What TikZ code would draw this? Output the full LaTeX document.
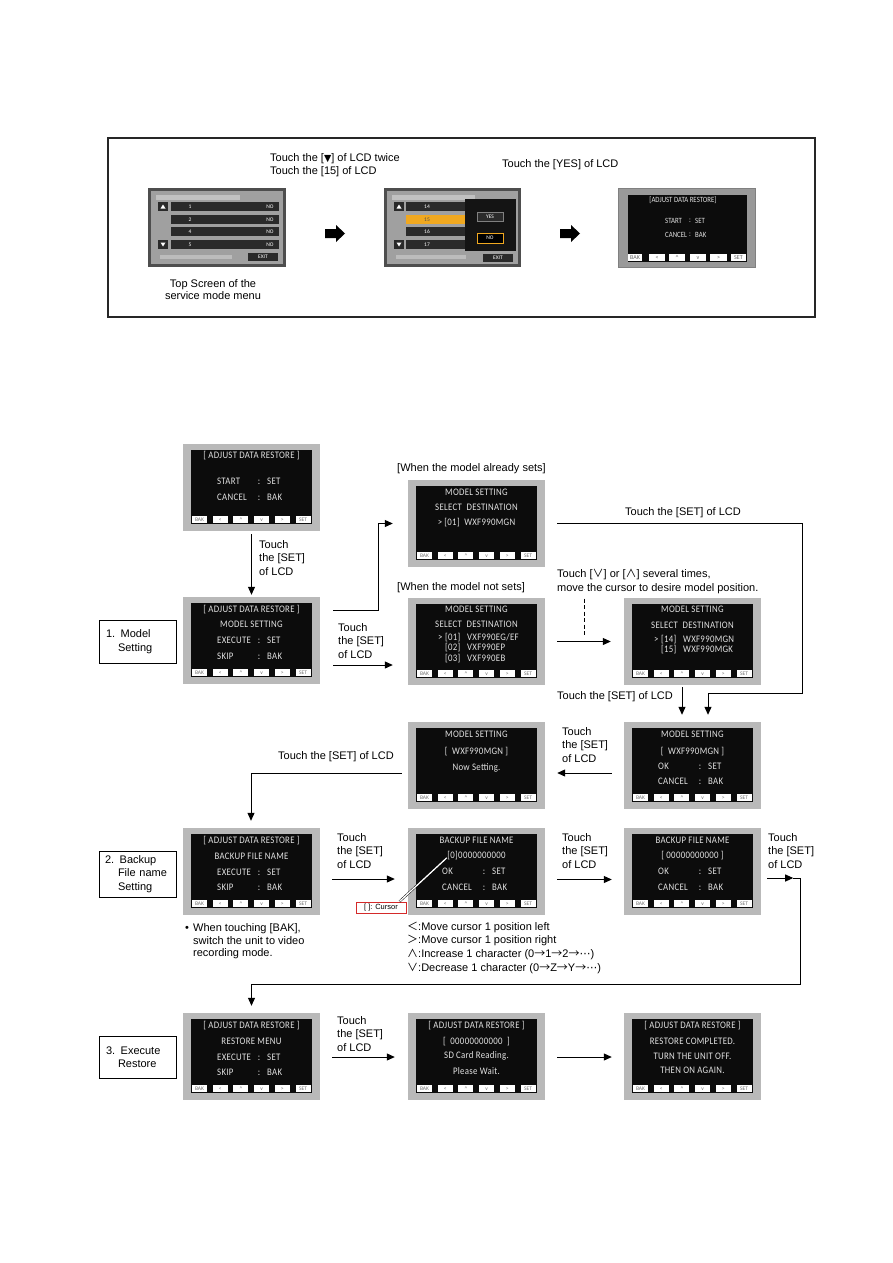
\documentclass[tikz,border=0pt]{standalone}
\usepackage{fontspec}
\setmainfont{Liberation Sans}
\newfontfamily\lcdfont[LetterSpace=3,FakeStretch=0.88]{Carlito}
\newfontfamily\lcdplain{Carlito}
\newfontfamily\lcdnarrow[FakeStretch=0.85]{Carlito}
\newfontfamily\cjk{Noto Sans CJK JP}
\newfontfamily\djv{DejaVu Sans}
\usetikzlibrary{arrows.meta,calc}
\definecolor{lcdframe}{HTML}{B9B9B9}
\definecolor{lcdblack}{HTML}{0C0C0C}
\definecolor{lcdtext}{HTML}{E2E2E2}
\definecolor{menugray}{HTML}{A0A0A0}
\definecolor{menudark}{HTML}{2A2A2A}
\definecolor{menuborder}{HTML}{4E4E4E}
\definecolor{hilite}{HTML}{F0A820}
\definecolor{cursorred}{HTML}{D42A2A}
\tikzset{
  lcdbox/.style={fill=lcdframe, minimum width=137pt, minimum height=87pt, inner sep=0pt},
  lcdtxt/.style={inner sep=0pt, text height=6.4pt, text depth=0pt, font=\lcdfont\fontsize{10}{10}\selectfont, text=lcdtext},
  lcdbtn/.style={fill=white, inner sep=0pt, minimum width=15pt, minimum height=7pt, text height=3.5pt, text depth=0pt, font=\lcdplain\fontsize{5.5}{5.5}\selectfont, text=black!55},
  lbl/.style={inner sep=0pt, align=left, font=\fontsize{11}{13.7}\selectfont},
  arr/.style={line width=1pt, -{Triangle[length=8pt,width=7pt]}},
  conn/.style={line width=1pt},
  stepbox/.style={draw, line width=0.9pt, inner xsep=7pt, text width=63pt, align=left, font=\fontsize{11}{13.3}\selectfont},
  mtxt/.style={inner sep=0pt, text=white, font=\lcdplain\fontsize{5.5}{6}\selectfont},
  tltxt/.style={inner sep=0pt, text=lcdtext, font=\lcdnarrow\fontsize{8}{8}\selectfont},
  tbtn/.style={fill=white, inner sep=0pt, minimum height=7pt, text height=4pt, text depth=0pt, font=\lcdplain\fontsize{6}{6}\selectfont, text=black!60},
}
\newcommand\lcdscreen[3]{%
  \gdef\scrn{#1}\gdef\sx{#2}\gdef\sy{#3}%
  \node[lcdbox] (#1) at (#2+68.5,#3+43.5) {};%
  \fill[lcdblack] (#2+8,#3+6) rectangle (#2+129,#3+79.5);%
  \node[lcdbtn] (#1-b1) at (#2+16.5,#3+75.5) {BAK};%
  \node[lcdbtn] (#1-b2) at (#2+37.2,#3+75.5) {<};%
  \node[lcdbtn] (#1-b3) at (#2+57.9,#3+75.5) {\textasciicircum};%
  \node[lcdbtn] (#1-b4) at (#2+78.6,#3+75.5) {v};%
  \node[lcdbtn] (#1-b5) at (#2+99.3,#3+75.5) {>};%
  \node[lcdbtn] (#1-b6) at (#2+120,#3+75.5) {SET};%
}
\newcommand\lcdline[3]{\node[lcdtxt] (\scrn-#1) at (\sx+68.5,\sy+#2) {#3};}
\newcommand\lcdkv[4]{%
  \node[lcdtxt,anchor=west] (\scrn-#1a) at (\sx+34,\sy+#2) {#3};%
  \node[lcdtxt] (\scrn-#1b) at (\sx+76,\sy+#2) {:};%
  \node[lcdtxt,anchor=west] (\scrn-#1c) at (\sx+84,\sy+#2) {#4};}
\newcommand\lcdrow[5]{%
  \node[lcdtxt,anchor=west] (\scrn-#1a) at (\sx+30,\sy+#2) {#3};%
  \node[lcdtxt,anchor=west] (\scrn-#1b) at (\sx+37,\sy+#2) {#4};%
  \node[lcdtxt,anchor=west] (\scrn-#1c) at (\sx+59,\sy+#2) {#5};}
\begin{document}
\begin{tikzpicture}[x=1pt,y=-1pt]
\useasboundingbox (0,0) rectangle (893,1263);
\fill[white] (0,0) rectangle (893,1263);

% ================= TOP BOX =================
\node[draw=black!85, line width=1.5pt, minimum width=707pt, minimum height=179pt, inner sep=0pt] (topbox) at (461.5,227.5) {};
\node[lbl, anchor=west, font=\fontsize{11}{13}\selectfont] (tl1) at (270,165.5) {Touch the [{\djv\fontsize{9.5}{9.5}\selectfont ▼}] of LCD twice\\Touch the [15] of LCD};
\node[lbl, anchor=west] (tl2) at (502,165) {Touch the [YES] of LCD};
\node[lbl, align=center, font=\fontsize{11}{12.5}\selectfont] (tl3) at (213,289.5) {Top Screen of the\\service mode menu};

% top screen 1
\node[fill=menuborder, minimum width=138pt, minimum height=79pt, inner sep=0pt] (T1) at (217,227.5) {};
\fill[menugray] (151,191) rectangle (283,264);
\fill[white, opacity=0.35] (156,195) rectangle (240,199.5);
\foreach \yy/\nn in {202/1,215/2,227/4,240/5}{
  \fill[menudark] (171,\yy) rectangle (279,\yy+8.5);
  \node[mtxt] (T1n\nn) at (190,\yy+4.3) {\nn};
  \node[mtxt] (T1o\nn) at (270,\yy+4.3) {NO};
}
\fill[menudark] (158,202) rectangle (168,210.5);
\fill[white] (160.5,208.5) -- (165.5,208.5) -- (163,204.5) -- cycle;
\fill[menudark] (158,240) rectangle (168,248.5);
\fill[white] (160.5,242.5) -- (165.5,242.5) -- (163,246.5) -- cycle;
\fill[white, opacity=0.3] (160,254.5) rectangle (232,258.5);
\node[fill=menudark, minimum width=30pt, minimum height=8pt, mtxt] (T1x) at (263,257) {EXIT};

% block arrow 1
\fill[black] (325,229) -- (336,229) -- (336,225) -- (345,233.5) -- (336,242) -- (336,238) -- (325,238) -- cycle;

% top screen 2
\node[fill=menuborder, minimum width=137pt, minimum height=79pt, inner sep=0pt] (T2) at (452.5,227.5) {};
\fill[menugray] (387,191) rectangle (518,264);
\fill[white, opacity=0.35] (392,195) rectangle (475,199.5);
\foreach \yy/\nn in {202/14,227/16,240/17}{
  \fill[menudark] (406,\yy) rectangle (466,\yy+8.5);
  \node[mtxt] (T2n\nn) at (427,\yy+4.3) {\nn};
}
\fill[hilite] (406,215) rectangle (466,223.5);
\node[mtxt, text=black!70] (T2n15) at (427,219.3) {15};
\fill[menudark] (394,202) rectangle (404,210.5);
\fill[white] (396.5,208.5) -- (401.5,208.5) -- (399,204.5) -- cycle;
\fill[menudark] (394,240) rectangle (404,248.5);
\fill[white] (396.5,242.5) -- (401.5,242.5) -- (399,246.5) -- cycle;
\fill[white, opacity=0.3] (396,254.5) rectangle (466,258.5);
\fill[black!92] (465,199) rectangle (516,251);
\node[draw=gray, line width=0.5pt, fill=menudark, minimum width=26pt, minimum height=9pt, mtxt] (T2y) at (490,216.5) {YES};
\node[draw=hilite, line width=0.9pt, fill=black, minimum width=26pt, minimum height=10pt, mtxt] (T2no) at (490,238) {NO};
\node[fill=menudark, minimum width=30pt, minimum height=8pt, mtxt] (T2x) at (498,258) {EXIT};

% block arrow 2
\fill[black] (560,229) -- (571,229) -- (571,225) -- (580,233.5) -- (571,242) -- (571,238) -- (560,238) -- cycle;

% top screen 3
\node[fill=gray!80, draw=gray, line width=1pt, minimum width=137pt, minimum height=79pt, inner sep=0pt] (T3) at (687,227.5) {};
\fill[lcdblack] (628,195) rectangle (747,262);
\node[tltxt] (T3t1) at (683,200) {[ADJUST DATA RESTORE]};
\node[tltxt, anchor=west] (T3t2) at (665,221) {START};
\node[tltxt] (T3t3) at (690,221) {:};
\node[tltxt, anchor=west] (T3t4) at (695,221) {SET};
\node[tltxt, anchor=west] (T3t5) at (665,235) {CANCEL};
\node[tltxt] (T3t6) at (690,235) {:};
\node[tltxt, anchor=west] (T3t7) at (695,235) {BAK};
\node[tbtn, minimum width=14pt] (T3b1) at (635,257.5) {BAK};
\node[tbtn, minimum width=16pt] (T3b2) at (657,257.5) {<};
\node[tbtn, minimum width=16pt] (T3b3) at (677,257.5) {\textasciicircum};
\node[tbtn, minimum width=16pt] (T3b4) at (698,257.5) {v};
\node[tbtn, minimum width=17pt] (T3b5) at (718.5,257.5) {>};
\node[tbtn, minimum width=15pt] (T3b6) at (738.5,257.5) {SET};

% ================= MAIN FLOW =================
% A
\lcdscreen{A}{183}{444}
\lcdline{1}{11}{[ ADJUST DATA RESTORE ]}
\lcdkv{2}{37}{START}{SET}
\lcdkv{3}{53}{CANCEL}{BAK}
% B
\lcdscreen{B}{183}{597}
\lcdline{1}{12}{[ ADJUST DATA RESTORE ]}
\lcdline{2}{27}{MODEL SETTING}
\lcdkv{3}{43}{EXECUTE}{SET}
\lcdkv{4}{59}{SKIP}{BAK}
% C
\lcdscreen{C}{408}{480}
\lcdline{1}{12}{MODEL SETTING}
\lcdline{2}{27}{SELECT\ \ DESTINATION}
\lcdline{3}{42}{>\ [01]\ \ WXF990MGN}
% D
\lcdscreen{D}{408}{598}
\lcdline{1}{11}{MODEL SETTING}
\lcdline{2}{26}{SELECT\ \ DESTINATION}
\lcdrow{3}{39}{>}{[01]}{VXF990EG/EF}
\lcdrow{4}{49}{}{[02]}{VXF990EP}
\lcdrow{5}{60}{}{[03]}{VXF990EB}
% E
\lcdscreen{E}{624}{598}
\lcdline{1}{11}{MODEL SETTING}
\lcdline{2}{27}{SELECT\ \ DESTINATION}
\lcdrow{3}{41}{>}{[14]}{WXF990MGN}
\lcdrow{4}{51}{}{[15]}{WXF990MGK}
% F
\lcdscreen{F}{624}{722}
\lcdline{1}{12}{MODEL SETTING}
\lcdline{2}{29}{[\ \ WXF990MGN\ ]}
\lcdkv{3}{44}{OK}{SET}
\lcdkv{4}{59}{CANCEL}{BAK}
% G
\lcdscreen{G}{408}{722}
\lcdline{1}{12}{MODEL SETTING}
\lcdline{2}{29}{[\ \ WXF990MGN\ ]}
\lcdline{3}{45}{Now Setting.}
% H
\lcdscreen{H}{183}{828}
\lcdline{1}{12}{[ ADJUST DATA RESTORE ]}
\lcdline{2}{28}{BACKUP FILE NAME}
\lcdkv{3}{44}{EXECUTE}{SET}
\lcdkv{4}{59}{SKIP}{BAK}
% I
\lcdscreen{I}{408}{828}
\lcdline{1}{12}{BACKUP FILE NAME}
\lcdline{2}{27}{[0]0000000000}
\lcdkv{3}{43}{OK}{SET}
\lcdkv{4}{59}{CANCEL}{BAK}
% J
\lcdscreen{J}{624}{828}
\lcdline{1}{12}{BACKUP FILE NAME}
\lcdline{2}{27}{[ 00000000000 ]}
\lcdkv{3}{43}{OK}{SET}
\lcdkv{4}{59}{CANCEL}{BAK}
% K
\lcdscreen{K}{183}{1013}
\lcdline{1}{12}{[ ADJUST DATA RESTORE ]}
\lcdline{2}{28}{RESTORE MENU}
\lcdkv{3}{44}{EXECUTE}{SET}
\lcdkv{4}{59}{SKIP}{BAK}
% L
\lcdscreen{L}{408}{1013}
\lcdline{1}{12}{[ ADJUST DATA RESTORE ]}
\lcdline{2}{28}{[\ \ 00000000000\ \ ]}
\lcdline{3}{42}{SD Card Reading.}
\lcdline{4}{58}{Please Wait.}
% M
\lcdscreen{M}{624}{1013}
\lcdline{1}{12}{[ ADJUST DATA RESTORE ]}
\lcdline{2}{28}{RESTORE COMPLETED.}
\lcdline{3}{43}{TURN THE UNIT OFF.}
\lcdline{4}{57}{THEN ON AGAIN.}

% step boxes
\node[stepbox, minimum height=43pt] (s1) at (137.5,641.5) {1. Model\\\hspace*{12pt}Setting};
\node[stepbox, minimum height=46pt, inner xsep=6pt, text width=65pt] (s2) at (137.5,874) {2. Backup\\\hspace*{13pt}File name\\\hspace*{13pt}Setting};
\node[stepbox, minimum height=42pt] (s3) at (137.5,1057) {3. Execute\\\hspace*{12pt}Restore};

% labels
\node[lbl, anchor=west] (lAB) at (259,558) {Touch\\the [SET]\\of LCD};
\node[lbl, anchor=west] (lBD) at (338,641) {Touch\\the [SET]\\of LCD};
\node[lbl, anchor=west] (lC) at (397,469) {[When the model already sets]};
\node[lbl, anchor=west] (lD) at (397,588) {[When the model not sets]};
\node[lbl, anchor=west] (lCF) at (625,513) {Touch the [SET] of LCD};
\node[lbl, anchor=west, font=\fontsize{11}{14}\selectfont] (lDE) at (557,581) {Touch [{\cjk ∨}] or [{\cjk ∧}] several times,\\move the cursor to desire model position.};
\node[lbl, anchor=west] (lEF) at (557,697) {Touch the [SET] of LCD};
\node[lbl, anchor=west] (lFG) at (562,745) {Touch\\the [SET]\\of LCD};
\node[lbl, anchor=west] (lGH) at (278,757) {Touch the [SET] of LCD};
\node[lbl, anchor=west] (lHI) at (337,851) {Touch\\the [SET]\\of LCD};
\node[lbl, anchor=west] (lIJ) at (562,851) {Touch\\the [SET]\\of LCD};
\node[lbl, anchor=west] (lJK) at (768,851) {Touch\\the [SET]\\of LCD};
\node[lbl, anchor=west] (lKL) at (337,1034) {Touch\\the [SET]\\of LCD};

% bullet note
\node[lbl, anchor=west] (bul) at (185,929) {•};
\node[lbl, anchor=west, font=\fontsize{11}{12.6}\selectfont] (note) at (193,941.5) {When touching [BAK],\\switch the unit to video\\recording mode.};

% legend
\node[lbl, anchor=west] (lg1) at (407,927) {{\cjk ＜}:Move cursor 1 position left};
\node[lbl, anchor=west] (lg2) at (407,940.5) {{\cjk ＞}:Move cursor 1 position right};
\node[lbl, anchor=west] (lg3) at (407,954) {{\cjk ∧}:Increase 1 character (0{\cjk →}1{\cjk →}2{\cjk →}{\djv ⋯})};
\node[lbl, anchor=west] (lg4) at (407,968) {{\cjk ∨}:Decrease 1 character (0{\cjk →}Z{\cjk →}Y{\cjk →}{\djv ⋯})};

% cursor callout
\node[draw=cursorred, line width=1pt, fill=white, minimum width=50pt, minimum height=11pt, inner sep=0pt, font=\fontsize{7.5}{8}\selectfont] (cur) at (381,907.5) {[ ]: Cursor};
\draw[double=white, double distance=1.3pt, line width=0.45pt] ($(cur.north east)+(-7,0)$) -- ($(I.north west)+(39,30)$);

% connectors
\draw[arr] ([yshift=-3pt]A.south) -- ([yshift=2pt]B.north);
\draw[arr] ($(B.east)+(13,-30.5)$) -| ($(C.west)+(-29,0)$) -- ($(C.west)+(-15,0)$);
\draw[arr] ($(B.east)+(13,24.5)$) -- ($(D.west)+(-15,23.5)$);
\draw[arr] ($(D.east)+(12,0)$) -- ($(E.west)+(-13,0)$);
\draw[line width=1pt, dash pattern=on 4pt off 2.5pt] ($(D.east)+(39,-43)$) coordinate (dsh1) -- ($(D.east)+(39,-7)$) coordinate (dsh2);
\draw[arr] ($(C.east)+(12,0)$) -- ++(245,0) |- ($(F.north)+(15.5,-28)$) -- ($(F.north)+(15.5,-7)$);
\draw[arr] ($(E.south)+(-10.5,2)$) -- ($(F.north)+(-10.5,-7)$);
\draw[arr] ($(F.west)+(-12,7.5)$) -- ($(G.east)+(12,7.5)$);
\draw[arr] ($(G.west)+(-6,7.5)$) -| ($(H.north)+(-0.5,-7)$);
\draw[arr] ($(H.east)+(12,7.5)$) -- ($(I.west)+(-13,7.5)$);
\draw[arr] ($(I.east)+(12,8)$) -- ($(J.west)+(-12,8)$);
\draw[arr] ($(J.east)+(6,6.5)$) -- ($(J.east)+(32,6.5)$) coordinate (jk);
\draw[arr] (jk) -- ++(7,0) |- ($(K.north)+(0,-28)$) -- ($(K.north)+(0,-7)$);
\draw[arr] ($(K.east)+(12,0.5)$) -- ($(L.west)+(-13,0.5)$);
\draw[arr] ($(L.east)+(12,0.5)$) -- ($(M.west)+(-12,0.5)$);
\end{tikzpicture}
\end{document}
